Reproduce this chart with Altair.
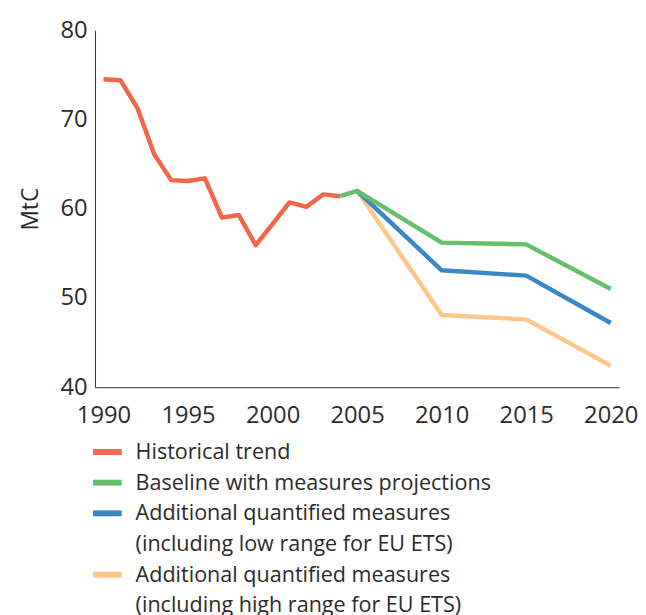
import altair as alt
import pandas as pd

# ---- data ----
hist_years = list(range(1990, 2005))
hist_vals = [74.5, 74.4, 71.3, 66.1, 63.2, 63.1, 63.4, 59.0, 59.3, 55.9, 58.3, 60.7, 60.2, 61.6, 61.4]

base_years = [2004, 2005, 2010, 2015, 2020]
base_vals = [61.4, 62.0, 56.2, 56.0, 51.0]

proj_years = [2005, 2010, 2015, 2020]
low_vals = [62.0, 53.1, 52.5, 47.2]
high_vals = [62.0, 48.1, 47.6, 42.4]

series = ["Historical trend", "Baseline with measures projections",
          "Additional quantified measures (low)", "Additional quantified measures (high)"]
colors = ["#f26649", "#66bf6b", "#3a87c8", "#fdc68b"]

legend_lines = ["Historical trend",
                "Baseline with measures projections",
                "Additional quantified measures",
                "(including low range for EU ETS)",
                "Additional quantified measures",
                "(including high range for EU ETS)"]
legend_line_rows = [0, 1, 2, 3, 4, 5]
legend_symbol_rows = [0, 1, 2, 4]

x_ticks = [1990, 1995, 2000, 2005, 2010, 2015, 2020]
y_ticks = [40, 50, 60, 70, 80]

FONT = "Open Sans"
TXT = "#2b2b2b"

def series_df(years, vals, name):
    return pd.DataFrame({"year": years, "value": vals, "series": name})

x_enc = alt.X("year:Q",
              scale=alt.Scale(domain=[1989.5, 2020.5], nice=False, zero=False),
              axis=alt.Axis(values=x_ticks, format="d", title=None, grid=False, ticks=False,
                            labelFlush=False, labelPadding=17, labelFontSize=24,
                            labelFont=FONT, labelColor=TXT, domainColor="#333333",
                            labelOverlap=False))
y_enc = alt.Y("value:Q",
              scale=alt.Scale(domain=[40, 80], nice=False, zero=False),
              axis=alt.Axis(values=y_ticks, title="MtC", grid=False, ticks=False,
                            labelPadding=8, labelFontSize=24, labelFont=FONT, labelColor=TXT,
                            titleFontSize=23, titleFont=FONT, titleFontWeight="normal",
                            titleColor=TXT, titlePadding=18, domainColor="#333333",
                            labelFlush=False))
color_enc = alt.Color("series:N", scale=alt.Scale(domain=series, range=colors), legend=None)

def line(df):
    return alt.Chart(df).mark_line(strokeWidth=4.5, strokeJoin="round").encode(
        x=x_enc, y=y_enc, color=color_enc)

plot = alt.layer(
    line(series_df(hist_years, hist_vals, series[0])),
    line(series_df(proj_years, high_vals, series[3])),
    line(series_df(proj_years, low_vals, series[2])),
    line(series_df(base_years, base_vals, series[1])),
).properties(width=530, height=361)

# ---- manual legend ----
sym_df = pd.DataFrame({"row": legend_symbol_rows, "series": series})
txt_df = pd.DataFrame({"row": legend_line_rows, "text": legend_lines})
ly = alt.Y("row:Q", scale=alt.Scale(domain=[-0.5, 5.5], reverse=True, nice=False, zero=False), axis=None)

sym = alt.Chart(sym_df).mark_rule(strokeWidth=6).encode(
    x=alt.value(-2), x2=alt.value(27), y=ly, color=color_enc)
txt = alt.Chart(txt_df).mark_text(align="left", baseline="middle", fontSize=21.8,
                                  font=FONT, color=TXT).encode(
    x=alt.value(41), y=ly, text="text:N")
legend = alt.layer(sym, txt).properties(width=530, height=186)

chart = alt.vconcat(plot, legend, spacing=9).configure_view(stroke=None).properties(
    padding={"left": 11, "top": 7, "right": 0, "bottom": 0})

chart.save("out.html", embed_options={"renderer": "svg", "actions": False})
